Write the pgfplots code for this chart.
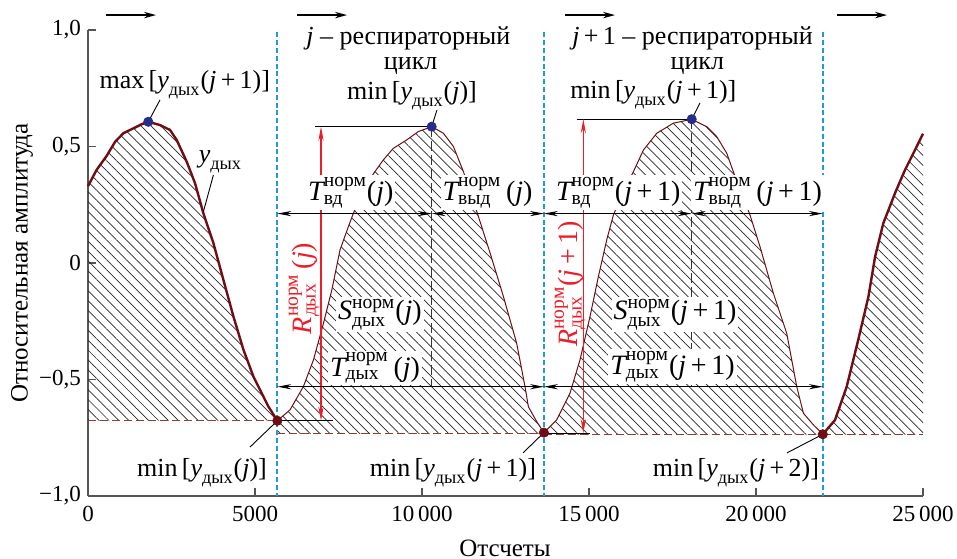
\documentclass[border=0pt]{standalone}
\usepackage{amsmath}
\usepackage{fontspec}
\setmainfont{Liberation Serif}
\usepackage{pgfplots}
\usepackage{pgfplotstable}
\pgfplotsset{compat=1.18}
\usepgfplotslibrary{fillbetween}
\usetikzlibrary{patterns.meta,arrows.meta}

\definecolor{curve}{RGB}{110,14,20}
\definecolor{basel}{RGB}{145,60,60}
\definecolor{blueline}{RGB}{30,155,220}
\definecolor{dotblue}{RGB}{40,45,140}
\definecolor{arrred}{RGB}{235,30,40}
\definecolor{axgray}{RGB}{85,85,85}

\newcommand{\fa}{\fontsize{13}{15}\selectfont}
\newcommand{\fb}{\fontsize{14}{16}\selectfont}
\newcommand{\yd}{$\textit{y}_{\text{дых}}$}

\pgfplotstableread{
x y
0 0.330
260 0.400
560 0.460
810 0.520
1060 0.557
1360 0.578
1600 0.595
1805 0.606
2155 0.592
2455 0.571
2655 0.528
2955 0.435
3205 0.342
3455 0.213
3755 0.085
4055 -0.073
4355 -0.230
4655 -0.373
4955 -0.488
5205 -0.560
5405 -0.617
5670 -0.677
}\cycA

\pgfplotstableread{
x y
5670 -0.677
6050 -0.630
6450 -0.530
6750 -0.416
7050 -0.259
7300 -0.116
7545 0.056
7795 0.156
7945 0.213
8300 0.330
8590 0.392
8840 0.442
9140 0.492
9540 0.528
9890 0.564
10290 0.585
10640 0.557
10940 0.500
11140 0.428
11240 0.392
11690 0.199
12040 0.042
12440 -0.145
12835 -0.345
13085 -0.531
13185 -0.617
13435 -0.681
13650 -0.728
}\cycB

\pgfplotstableread{
x y
13650 -0.728
14030 -0.674
14430 -0.559
14730 -0.416
15030 -0.230
15280 -0.059
15530 0.099
15730 0.206
16030 0.310
16330 0.392
16630 0.485
17030 0.557
17525 0.600
18075 0.617
18525 0.585
18825 0.542
19125 0.471
19320 0.392
19820 0.206
20120 0.070
20520 -0.130
20920 -0.302
21220 -0.531
21420 -0.645
21720 -0.695
22000 -0.735
}\cycC

\pgfplotstableread{
x y
22000 -0.735
22365 -0.674
22715 -0.531
23060 -0.330
23365 -0.145
23565 0.027
23810 0.170
24160 0.299
24460 0.399
24760 0.485
25000 0.555
}\cycD

\begin{document}
\begin{tikzpicture}[
  hatch/.style={pattern={Lines[angle=-45,distance=3.5pt,line width=0.35pt]}, pattern color=black!85},
  base/.style={basel, line width=0.65pt, dash pattern=on 4pt off 2pt},
  dbl/.style={{Stealth[length=7pt,width=2.6pt]}-{Stealth[length=7pt,width=2.6pt]}, line width=0.5pt, black},
  bdash/.style={blueline, line width=0.9pt, dash pattern=on 2.5pt off 1.4pt},
  toparr/.style={-{Stealth[length=6pt,width=3.2pt]}, line width=0.6pt},
  redarr/.style={{Stealth[length=7pt,width=2.6pt]}-{Stealth[length=7pt,width=2.6pt]}, arrred, line width=0.6pt},
  lead/.style={black, line width=0.45pt},
]
\begin{axis}[
  set layers,
  scale only axis, width=417.5pt, height=233pt,
  xmin=0, xmax=25000, ymin=-1, ymax=1,
  axis x line*=bottom, axis y line*=left,
  axis line style={axgray, line width=0.6pt},
  tick style={axgray, line width=0.6pt},
  tick align=inside, major tick length=4pt,
  scaled x ticks=false, scaled y ticks=false,
  xtick={0,5000,10000,15000,20000,25000},
  xticklabels={0,5000,10\,000,15\,000,20\,000,25\,000},
  ytick={-1,-0.5,0,0.5,1},
  yticklabels={{−1,0},{−0,5},0,{0,5},{1,0}},
  tick label style={font=\fontsize{11.5}{13}\selectfont, text=black},
  xticklabel style={yshift=-1.5pt},
  clip=false,
]
% curves
\addplot[name path=c1, curve, line width=1.2pt] table {\cycA};
\addplot[name path=c2, curve, line width=0.5pt] table {\cycB};
\addplot[name path=c3, curve, line width=0.5pt] table {\cycC};
\addplot[name path=c4, curve, line width=1.2pt] table {\cycD};
% baselines
\addplot[name path=b1, base] coordinates {(0,-0.677) (5670,-0.677)};
\addplot[name path=b2, base] coordinates {(5670,-0.733) (13650,-0.733)};
\addplot[name path=b3, base] coordinates {(13650,-0.737) (22000,-0.737)};
\addplot[name path=b4, base] coordinates {(22000,-0.737) (25000,-0.737)};
% hatching
\addplot[hatch] fill between[of=c1 and b1];
\addplot[hatch] fill between[of=c2 and b2];
\addplot[hatch] fill between[of=c3 and b3];
\addplot[hatch] fill between[of=c4 and b4];

% blue dashed cycle borders
\addplot[bdash] coordinates {(5660,0.99) (5660,-1)};
\addplot[bdash] coordinates {(13650,0.99) (13650,-1)};
\addplot[bdash] coordinates {(22000,0.99) (22000,-1)};

% top direction arrows
\draw[toparr] (axis cs:539,1.064) -- (axis cs:2036,1.064);
\draw[toparr] (axis cs:6257,1.064) -- (axis cs:7754,1.064);
\draw[toparr] (axis cs:14281,1.064) -- (axis cs:15778,1.064);
\draw[toparr] (axis cs:22425,1.064) -- (axis cs:23922,1.064);

% black dashed verticals at maxima
\draw[black!80, line width=0.6pt, dash pattern=on 5pt off 2pt] (axis cs:10290,0.585) -- (axis cs:10290,-0.531);
\draw[black!80, line width=0.6pt, dash pattern=on 5pt off 2pt] (axis cs:18075,0.617) -- (axis cs:18075,-0.531);

% level lines
\draw[black, line width=0.5pt] (axis cs:6796,0.585) -- (axis cs:10290,0.585);
\draw[black, line width=0.5pt] (axis cs:14630,0.617) -- (axis cs:18075,0.617);
\draw[black, line width=0.5pt] (axis cs:5670,-0.677) -- (axis cs:7325,-0.677);
\draw[black, line width=0.5pt] (axis cs:13650,-0.73) -- (axis cs:15030,-0.73);

% red amplitude arrows
\draw[redarr] (axis cs:6976,-0.677) -- (axis cs:6976,0.585);
\draw[redarr] (axis cs:14830,-0.73) -- (axis cs:14830,0.617);

% duration arrows
\draw[dbl] (axis cs:5670,0.212) -- (axis cs:10290,0.212);
\draw[dbl] (axis cs:10290,0.212) -- (axis cs:13650,0.212);
\draw[dbl] (axis cs:13650,0.212) -- (axis cs:18075,0.212);
\draw[dbl] (axis cs:18075,0.212) -- (axis cs:22000,0.212);
\draw[dbl] (axis cs:5670,-0.531) -- (axis cs:13650,-0.531);
\draw[dbl] (axis cs:13650,-0.531) -- (axis cs:22000,-0.531);

% leader lines
\draw[lead] (axis cs:2156,0.70) -- (axis cs:1805,0.606);
\draw[lead] (axis cs:3755,0.378) -- (axis cs:3455,0.22);
\draw[lead] (axis cs:10449,0.657) -- (axis cs:10290,0.585);
\draw[lead] (axis cs:18323,0.687) -- (axis cs:18075,0.617);
\draw[lead] (axis cs:4850,-0.79) -- (axis cs:5670,-0.677);
\draw[lead] (axis cs:13024,-0.815) -- (axis cs:13650,-0.728);
\draw[lead] (axis cs:20928,-0.815) -- (axis cs:22000,-0.735);

% points
\addplot[only marks, mark=*, mark size=2.3pt, dotblue] coordinates {(1805,0.606) (10290,0.585) (18075,0.617)};
\addplot[only marks, mark=*, mark size=2.3pt, curve] coordinates {(5670,-0.677) (13650,-0.728) (22000,-0.735)};

% labels
\node[font=\fa] at (axis cs:2900,0.765) {max\,[\yd(\textit{j}\,+\,1)]};
\node[font=\fa] at (axis cs:3967,0.435) {\yd};
\node[font=\fa, inner sep=0pt] at (axis cs:9590,0.966) {\textit{j} – респираторный};
\node[font=\fa, inner sep=0pt] at (axis cs:9660,0.845) {цикл};
\node[font=\fa] at (axis cs:9700,0.719) {min\,[\yd(\textit{j})]};
\node[font=\fa, inner sep=0pt] at (axis cs:18100,0.966) {\textit{j}\,+\,1 – респираторный};
\node[font=\fa, inner sep=0pt] at (axis cs:18245,0.845) {цикл};
\node[font=\fa] at (axis cs:16925,0.721) {min\,[\yd(\textit{j}\,+\,1)]};
\node[font=\fa] at (axis cs:3413,-0.90) {min\,[\yd(\textit{j})]};
\node[font=\fa] at (axis cs:10928,-0.90) {min\,[\yd(\textit{j}\,+\,1)]};
\node[font=\fa] at (axis cs:19400,-0.90) {min\,[\yd(\textit{j}\,+\,2)]};

\node[font=\fb, fill=white, inner sep=1pt] at (axis cs:7868,0.302) {$\textit{T}^{\text{норм}}_{\text{вд}}$(\textit{j})};
\node[font=\fb, fill=white, inner sep=1pt] at (axis cs:11961,0.302) {$\textit{T}^{\text{норм}}_{\text{выд}}$\,(\textit{j})};
\node[font=\fb, fill=white, inner sep=1pt] at (axis cs:15878,0.302) {$\textit{T}^{\text{норм}}_{\text{вд}}$(\textit{j}\,+\,1)};
\node[font=\fb, fill=white, inner sep=1pt] at (axis cs:20045,0.302) {$\textit{T}^{\text{норм}}_{\text{выд}}$\,(\textit{j}\,+\,1)};
\node[font=\fb, fill=white, inner sep=1pt] at (axis cs:8742,-0.223) {$\textit{S}^{\text{норм}}_{\text{дых}}$(\textit{j})};
\node[font=\fb, fill=white, inner sep=1pt] at (axis cs:17575,-0.223) {$\textit{S}^{\text{норм}}_{\text{дых}}$(\textit{j}\,+\,1)};
\node[font=\fb, fill=white, inner sep=1pt] at (axis cs:8593,-0.451) {$\textit{T}^{\text{норм}}_{\text{дых}}$\,(\textit{j})};
\node[font=\fb, fill=white, inner sep=1pt] at (axis cs:17500,-0.445) {$\textit{T}^{\text{норм}}_{\text{дых}}$(\textit{j}\,+\,1)};
\node[font=\fb, text=arrred, rotate=90] at (axis cs:6467,-0.109) {$\textit{R}^{\text{норм}}_{\text{дых}}$\,(\textit{j})};
\node[font=\fb, text=arrred, rotate=90] at (axis cs:14431,-0.09) {$\textit{R}^{\text{норм}}_{\text{дых}}$(\textit{j}\,+\,1)};

% axis titles
\node[font=\fontsize{12.5}{14}\selectfont] at (axis cs:12485,-1.223) {Отсчеты};
\node[font=\fontsize{12.5}{14}\selectfont, rotate=90] at (axis cs:-1976,0) {Относительная амплитуда};
\end{axis}
\pgfresetboundingbox
\path ([shift={(-44pt,-31.5pt)}]current axis.south west) rectangle ([shift={(17pt,15pt)}]current axis.north east);
\end{tikzpicture}
\end{document}
